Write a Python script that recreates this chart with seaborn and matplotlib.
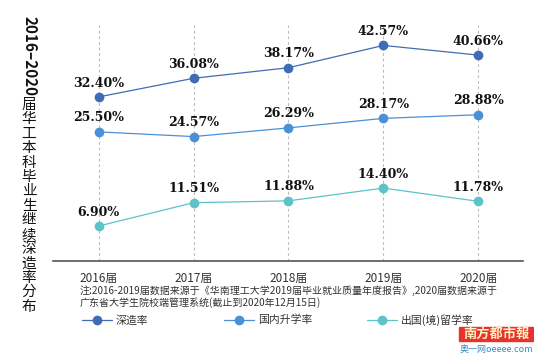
import pandas as pd
import seaborn as sns
import matplotlib.pyplot as plt
from matplotlib.lines import Line2D
from matplotlib.patches import Rectangle

# data
years = ['2016届', '2017届', '2018届', '2019届', '2020届']
further_rate = [32.40, 36.08, 38.17, 42.57, 40.66]
domestic_rate = [25.50, 24.57, 26.29, 28.17, 28.88]
abroad_rate = [6.90, 11.51, 11.88, 14.40, 11.78]
series_names = ['深造率', '国内升学率', '出国(境)留学率']
colors = ['#3f6cb4', '#4a90d6', '#5cc3c9']

title_num = '2016–2020'
title_cjk = '届华工本科毕业生继续深造率分布'
note_lines = ['注:2016-2019届数据来源于《华南理工大学2019届毕业就业质量年度报告》,2020届数据来源于',
              '广东省大学生院校端管理系统(截止到2020年12月15日)']

sns.set_style('white')
plt.rcParams['font.family'] = ['Noto Sans CJK SC', 'DejaVu Sans']

df = pd.DataFrame({
    'year': years * 3,
    'value': further_rate + domestic_rate + abroad_rate,
    'series': [s for s in series_names for _ in years],
})

W, H = 534, 356
fig = plt.figure(figsize=(W / 100, H / 100), dpi=100)
ax = fig.add_axes([53 / W, 1 - 261 / H, (523 - 53) / W, (261 - 23) / H])

sns.lineplot(data=df, x='year', y='value', hue='series', palette=colors,
             marker='o', markersize=7, markeredgewidth=0, linewidth=0.9,
             legend=False, ax=ax)

for i in range(len(years)):
    ax.axvline(i, color='#bbbbbb', linestyle=(0, (2.5, 2.5)), linewidth=0.8, zorder=0)

for vals in [further_rate, domestic_rate, abroad_rate]:
    for i, v in enumerate(vals):
        ax.annotate(f'{v:.2f}%', (i, v), xytext=(0, 10), textcoords='offset points',
                    ha='center', va='center', fontsize=9, fontweight='bold',
                    family=['DejaVu Serif'], color='#111111')

ax.set_xlim(-0.48, 4.47)
ax.set_ylim(0, 47)
ax.set_yticks([])
ax.set_xlabel('')
ax.set_ylabel('')
for s in ['top', 'right', 'left']:
    ax.spines[s].set_visible(False)
ax.spines['bottom'].set_color('#555555')
ax.spines['bottom'].set_linewidth(1.2)
ax.tick_params(axis='x', length=0, pad=8, labelsize=8.5, labelcolor='#333333')

# vertical title
fig.text(29 / W, 1 - 56 / H, title_num, rotation=-90, ha='center', va='center',
         fontsize=11, fontweight='bold', color='#111111')
for k, ch in enumerate(title_cjk):
    fig.text(29 / W, 1 - (105 + k * 14.4) / H, ch, ha='center', va='center',
             fontsize=10.5, color='#111111')

# note
for k, line in enumerate(note_lines):
    fig.text(80 / W, 1 - (291 + k * 12) / H, line, ha='left', va='center',
             fontsize=7.2, color='#333333')

# legend
leg_x = [97, 239, 382]
for x0, name, c in zip(leg_x, series_names, colors):
    fig.add_artist(Line2D([(x0 - 15) / W, (x0 + 15) / W], [1 - 320 / H] * 2,
                          color=c, linewidth=0.9))
    fig.add_artist(Line2D([x0 / W], [1 - 320 / H], color=c, marker='o',
                          markersize=7, markeredgewidth=0))
    fig.text((x0 + 19) / W, 1 - 320 / H, name, ha='left', va='center',
             fontsize=7.8, color='#333333')

# newspaper mark
fig.add_artist(Rectangle((459 / W, 1 - 341 / H), 74 / W, 14 / H,
                         transform=fig.transFigure, color='#e8322d'))
fig.text(496 / W, 1 - 334 / H, '南方都市報', ha='center', va='center',
         fontsize=9.5, fontweight='bold', color='#fff3c0')
fig.text(496 / W, 1 - 349 / H, '奥一网oeeee.com', ha='center', va='center',
         fontsize=6.5, color='#3a8bc0')

fig.savefig('out.png', dpi=100)
